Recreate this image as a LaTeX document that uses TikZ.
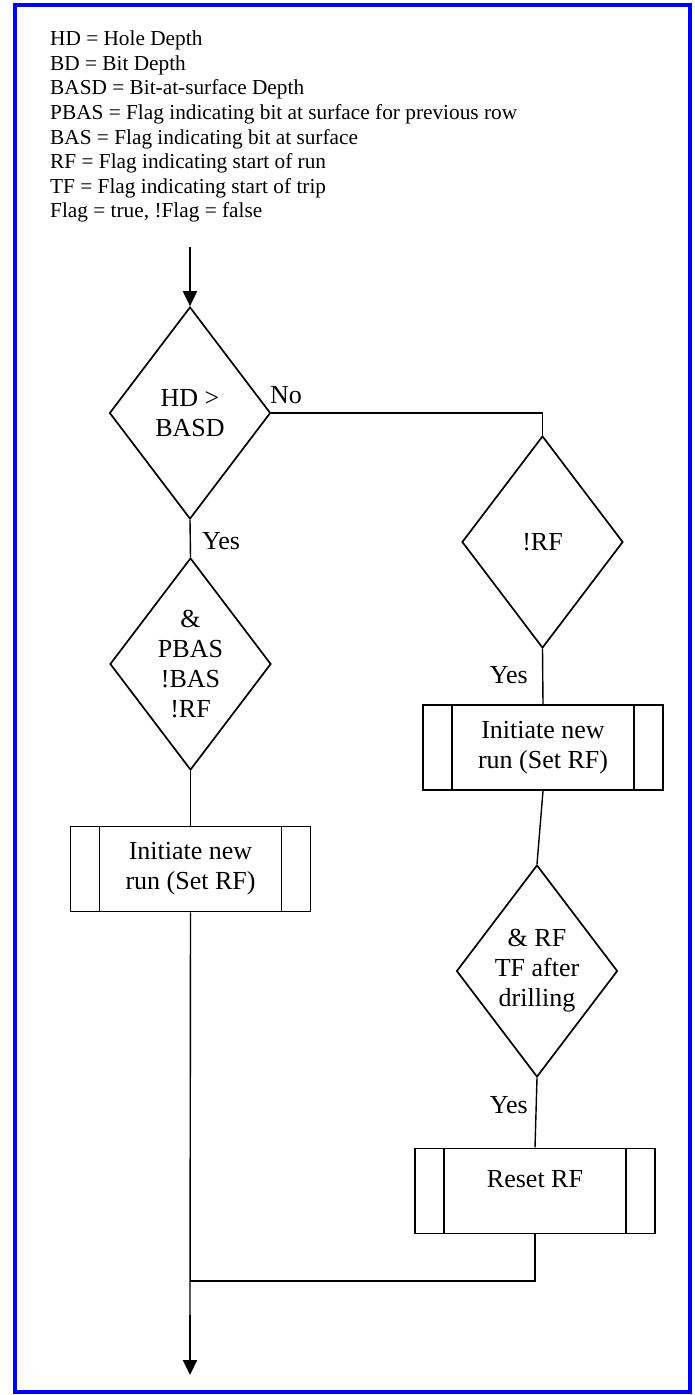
\documentclass[tikz,border=0pt]{standalone}
\usepackage{fontspec}
\setmainfont{Liberation Serif}
\usetikzlibrary{shapes.geometric,arrows.meta}
\newcommand{\bodyfnt}{\fontsize{26}{30}\selectfont}
\newcommand{\legfnt}{\fontsize{21.3}{24.6}\selectfont}
\begin{document}
\begin{tikzpicture}[x=1pt,y=-1pt,
  shapeline/.style={line width=1.7pt},
  conn/.style={line width=1.4pt},
  arr/.style={line width=2pt,-{Triangle[length=15pt,width=14pt]}},
  decision/.style={draw,shapeline,diamond,shape aspect=0.76,inner sep=0pt,minimum width=161pt,minimum height=212pt,align=center,font=\bodyfnt},
  predef/.style={draw,shapeline,rectangle,inner sep=0pt,minimum width=240pt,minimum height=85pt,align=center,font=\bodyfnt,
    path picture={\draw[line width=1.7pt] ([xshift=29pt]path picture bounding box.north west) -- ([xshift=29pt]path picture bounding box.south west);
                  \draw[line width=1.7pt] ([xshift=-29pt]path picture bounding box.north east) -- ([xshift=-29pt]path picture bounding box.south east);}},
  legend/.style={anchor=base west,inner sep=0pt,font=\legfnt},
  lbl/.style={inner sep=0pt,font=\bodyfnt}
]
\useasboundingbox (0,0) rectangle (694,1395);
\draw[blue,line width=4pt] (14.5,4.8) rectangle (690,1391.5);

\foreach \t [count=\i] in {HD = Hole Depth, BD = Bit Depth, BASD = Bit-at-surface Depth,
  PBAS = Flag indicating bit at surface for previous row, BAS = Flag indicating bit at surface,
  RF = Flag indicating start of run, TF = Flag indicating start of trip, {Flag = true, !Flag = false}}
  \node[legend] (leg\i) at (50,{45.7+(\i-1)*24.6}) {\t};

\node[decision] (d1) at (190,413) {HD >\\BASD};
\node[decision] (d2) at (542.5,542) {!RF};
\node[decision] (d1b) at (190.5,664) {\&\\PBAS\\!BAS\\!RF};
\node[predef] (b1) at (190.5,869) {Initiate new\\run (Set RF)};
\node[predef] (b2) at (543,747.5) {Initiate new\\run (Set RF)};
\node[decision] (d3) at (537,971) {\& RF\\TF after\\drilling};
\node[predef] (b3) at (535,1191) {\raisebox{12pt}[\height][\depth]{Reset RF}};

\node[lbl,anchor=base west] (no1) at (270,403) {No};
\node[lbl,anchor=base west] (yes1) at (202,549) {Yes};
\node[lbl,anchor=base east] (yes2) at (528,683) {Yes};
\node[lbl,anchor=base east] (yes3) at (528,1113) {Yes};

\coordinate (start) at (190,247);
\coordinate (join) at (190,1281);
\coordinate (tail) at (190,1320);
\coordinate (arrS) at (190,1315);
\coordinate (arrE) at (190,1375);

\draw[arr] (start) -- (d1.north);
\draw[conn] (d1.east) -| (d2.north);
\draw[conn] (d1.south) -- (d1b.north);
\draw[conn] (d1b.south) -- (b1.north);
\draw[conn] (b1.south) -- (tail);
\draw[conn] (d2.south) -- (b2.north);
\draw[conn] (b2.south) -- (d3.north);
\draw[conn] (d3.south) -- (b3.north);
\draw[conn] (b3.south) |- (join);
\draw[arr] (arrS) -- (arrE);
\end{tikzpicture}
\end{document}
